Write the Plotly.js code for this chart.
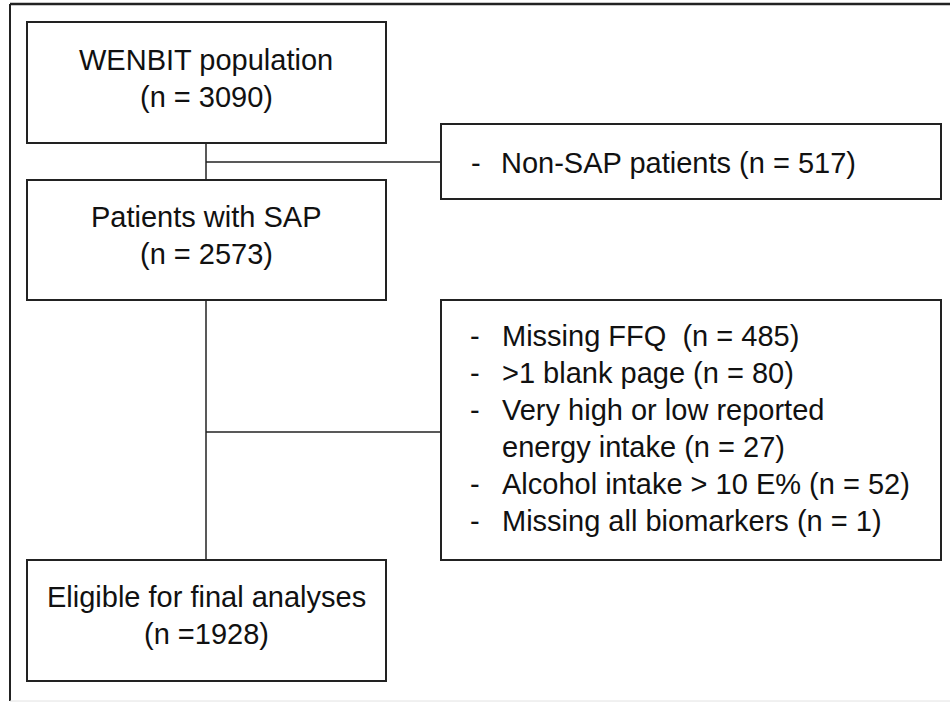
<!DOCTYPE html>
<html>
<head>
<meta charset="utf-8">
<script src="https://cdn.plot.ly/plotly-3.0.1.min.js"></script>
<style>html,body{margin:0;padding:0;background:#fff;}#chart{width:950px;height:702px;}</style>
</head>
<body>
<div id="chart"></div>
<script>
// ---- data ----
var stageLabels = ["WENBIT population", "Patients with SAP", "Eligible for final analyses"];
var stageCounts = ["(n = 3090)", "(n = 2573)", "(n =1928)"];
var excl1Labels = ["Non-SAP patients (n = 517)"];
var excl2Labels = ["Missing FFQ  (n = 485)", ">1 blank page (n = 80)", "Very high or low reported", "energy intake (n = 27)", "Alcohol intake > 10 E% (n = 52)", "Missing all biomarkers (n = 1)"];
var excl2Bullets = ["-", "-", "-", "", "-", "-"];

// ---- layout geometry ----
var stageBoxes = [[27, 386, 22, 143], [27, 386, 180, 300], [27, 386, 560, 681]];
var exclBoxes = [[441, 941, 124, 199], [441, 941, 300, 560]];
var spineX = 206;
var FONT = {family: "Liberation Sans, Arial, sans-serif", size: 29, color: "#111"};
var boxLine = {color: "#222", width: 2};
var connLine = {color: "#222", width: 1.5};

var shapes = [];
// outer frame
shapes.push({type: "line", x0: 10, x1: 10, y0: 4, y1: 701, line: {color: "#222", width: 2}});
shapes.push({type: "line", x0: 10, x1: 952, y0: 4, y1: 4, line: {color: "#222", width: 2.5}});
shapes.push({type: "line", x0: 10, x1: 952, y0: 701, y1: 701, line: {color: "#e2e2e2", width: 1}});

stageBoxes.concat(exclBoxes).forEach(function (b) {
  shapes.push({type: "rect", x0: b[0], x1: b[1], y0: b[2], y1: b[3], line: boxLine, fillcolor: "rgba(0,0,0,0)"});
});
// connectors
shapes.push({type: "line", x0: spineX, x1: spineX, y0: stageBoxes[0][3], y1: stageBoxes[1][2], line: connLine});
shapes.push({type: "line", x0: spineX, x1: spineX, y0: stageBoxes[1][3], y1: stageBoxes[2][2], line: connLine});
shapes.push({type: "line", x0: spineX, x1: exclBoxes[0][0], y0: 162, y1: 162, line: connLine});
shapes.push({type: "line", x0: spineX, x1: exclBoxes[1][0], y0: 432, y1: 432, line: connLine});

var annotations = [];
function addText(x, y, txt, anchor) {
  annotations.push({x: x, y: y, xref: "x", yref: "y", text: txt, showarrow: false,
    xanchor: anchor, yanchor: "middle", align: anchor === "center" ? "center" : "left", font: FONT});
}
var stageLine1Y = [60, 217, 597];
var stageLineGap = 36.5;
stageLabels.forEach(function (lab, i) {
  addText(spineX, stageLine1Y[i], lab, "center");
  addText(spineX, stageLine1Y[i] + stageLineGap, stageCounts[i], "center");
});
addText(469, 163, "-", "left");
addText(499, 163, excl1Labels[0], "left");
var listTop = 336, listGap = 37;
excl2Labels.forEach(function (lab, i) {
  if (excl2Bullets[i]) addText(468, listTop + i * listGap, excl2Bullets[i], "left");
  addText(500, listTop + i * listGap, lab, "left");
});

var layout = {
  width: 950, height: 702,
  margin: {l: 0, r: 0, t: 0, b: 0},
  paper_bgcolor: "#fff", plot_bgcolor: "#fff",
  xaxis: {range: [0, 950], visible: false, fixedrange: true},
  yaxis: {range: [702, 0], visible: false, fixedrange: true},
  shapes: shapes,
  annotations: annotations,
  showlegend: false
};
Plotly.newPlot("chart", [], layout, {staticPlot: true, displayModeBar: false});
</script>
</body>
</html>
